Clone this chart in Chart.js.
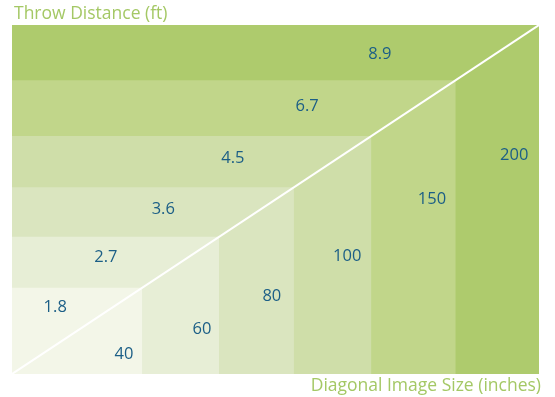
<!DOCTYPE html>
<html>
<head>
<meta charset="utf-8">
<script src="https://cdn.jsdelivr.net/npm/chart.js@4/dist/chart.umd.min.js"></script>
<style>
  html, body { margin: 0; padding: 0; background: #ffffff; }
  #wrap { width: 555px; height: 397px; position: relative; }
</style>
</head>
<body>
<div id="wrap"><canvas id="chart"></canvas></div>
<script>
// Screen sizes (inches, diagonal) and the matching throw distances (ft)
const imageSizes = [40, 60, 80, 100, 150, 200];
const throwDistances = [1.8, 2.7, 3.6, 4.5, 6.7, 8.9];
// Outer corner of each nested band on the 0..1 diagonal scale
const bandCorner = [0.247, 0.393, 0.535, 0.682, 0.842, 1.0];

// Fill colours, lightest (smallest band) to darkest
const bandColors = ['#f3f6e8', '#e7eed6', '#dae5bf', '#cfdea9', '#c1d68a', '#aecb6d'];

// Where each band's two value labels sit, on the same 0..1 scales
const labelLayout = {
  throwX: [0.082, 0.178, 0.287, 0.419, 0.560, 0.698],
  throwY: [0.192, 0.335, 0.473, 0.619, 0.768, 0.917],
  sizeX:  [0.2125, 0.3605, 0.493, 0.636, 0.797, 0.953],
  sizeY:  [0.057, 0.129, 0.2235, 0.338, 0.501, 0.628]
};

const TEXT_FONT = '"Open Sans", "Noto Sans", sans-serif';

// Each band is a filled rectangle from the origin to its corner on the diagonal
const bandDatasets = bandCorner.map((c, i) => ({
  label: imageSizes[i] + '" / ' + throwDistances[i] + ' ft',
  data: [{ x: 0, y: c }, { x: c, y: c }],
  fill: 'origin',
  backgroundColor: bandColors[i],
  borderWidth: 0,
  pointRadius: 0,
  showLine: true,
  order: i + 1
}));

const diagonal = {
  label: 'diagonal',
  data: [{ x: 0, y: 0 }, { x: 1, y: 1 }],
  fill: false,
  borderColor: '#ffffff',
  borderWidth: 2,
  pointRadius: 0,
  showLine: true,
  order: 0
};

const valueLabels = {
  id: 'valueLabels',
  afterDatasetsDraw(chart) {
    const { ctx, scales: { x, y }, chartArea } = chart;
    ctx.save();
    ctx.font = '16.5px ' + TEXT_FONT;
    ctx.fillStyle = '#1b5e86';
    ctx.textAlign = 'center';
    ctx.textBaseline = 'middle';
    throwDistances.forEach((v, i) => {
      ctx.fillText(v.toFixed(1), x.getPixelForValue(labelLayout.throwX[i]), y.getPixelForValue(labelLayout.throwY[i]));
    });
    imageSizes.forEach((v, i) => {
      ctx.fillText(String(v), x.getPixelForValue(labelLayout.sizeX[i]), y.getPixelForValue(labelLayout.sizeY[i]));
    });

    // Axis captions
    ctx.fillStyle = '#a4c865';
    ctx.font = '17.5px ' + TEXT_FONT;
    ctx.textAlign = 'left';
    ctx.textBaseline = 'alphabetic';
    ctx.fillText('Throw Distance (ft)', chartArea.left + 2, chartArea.top - 6);
    ctx.textAlign = 'right';
    ctx.textBaseline = 'middle';
    ctx.fillText('Diagonal Image Size (inches)', chartArea.right + 2, chartArea.bottom + 12);
    ctx.restore();
  }
};

new Chart(document.getElementById('chart'), {
  type: 'scatter',
  data: { datasets: [diagonal, ...bandDatasets] },
  options: {
    responsive: true,
    maintainAspectRatio: false,
    animation: false,
    layout: { padding: { left: 12, top: 25, right: 16, bottom: 23 } },
    scales: {
      x: { type: 'linear', min: 0, max: 1, display: false },
      y: { type: 'linear', min: 0, max: 1, display: false }
    },
    plugins: {
      legend: { display: false },
      tooltip: { enabled: false },
      filler: { propagate: false }
    }
  },
  plugins: [valueLabels]
});
</script>
</body>
</html>
